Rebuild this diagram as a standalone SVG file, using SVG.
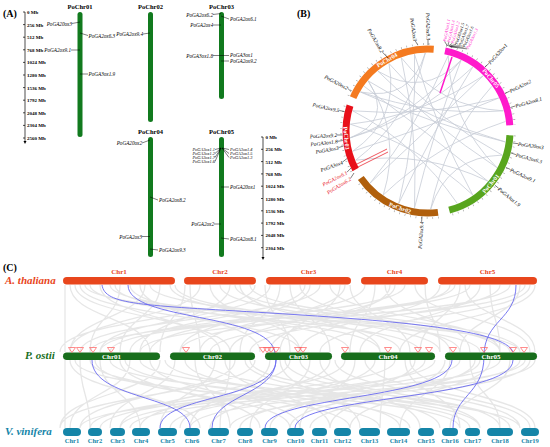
<svg xmlns="http://www.w3.org/2000/svg" width="550" height="447" viewBox="0 0 550 447">
<style>
text{font-family:"Liberation Serif","Times New Roman",serif}
.pl{font-size:10px;font-weight:bold}
.sc{font-size:5px;font-weight:bold}
.cn{font-size:6.5px;font-weight:bold;text-anchor:middle}
.g{font-size:5.2px;font-style:italic}
.ge{font-size:5.2px;font-style:italic;text-anchor:end}
.gs{font-size:4.4px;font-style:italic}
.gse{font-size:4.4px;font-style:italic;text-anchor:end}
.cg{font-size:5.3px;font-style:italic}
.cgs{font-size:4.4px;font-style:italic}
.cge{font-size:5.3px;font-style:italic;text-anchor:end}
.ln{stroke:#000;stroke-width:0.5;fill:none}
.chrA{fill:#117a1e}
.ax{stroke:#000;stroke-width:0.7;fill:none}
.arc{fill:none;stroke-width:7}
.tick{fill:none;stroke:#999;stroke-width:2;stroke-dasharray:0.6 5}
.lk{fill:none;stroke:#c7cbd5;stroke-width:0.8}
.cl{font-size:6px;font-weight:bold;fill:#fff;text-anchor:middle}
.sp{font-size:11px;font-weight:bold;font-style:italic}
.ath{fill:#e8461c}
.po{fill:#186e1c}
.vv{fill:#1585a8}
.al{font-size:7px;font-weight:bold;fill:#e8461c;text-anchor:middle}
.pol{font-size:7px;font-weight:bold;fill:#fff;text-anchor:middle}
.vl{font-size:6.5px;font-weight:bold;fill:#1585a8;text-anchor:middle}
.bg{fill:none;stroke:#d6d6d6;stroke-width:1.3;opacity:0.6}
.bl{fill:none;stroke:#6a6af0;stroke-width:0.9}
.tri{fill:none;stroke:#ff5a5a;stroke-width:0.7}
</style>
<defs>
<path id="tri" d="M-3.5 0 L3.5 0 L0 5Z"/>
</defs>
<rect width="550" height="447" fill="#fff"/>

<!-- Panel A -->
<g id="panelA">
<text class="pl" x="3" y="17">(A)</text>
<g id="scale1">
<path class="ax" d="M25 12V141"/>
<path d="M23.5 141L26.5 141L25 144Z"/>
<path class="ax" d="M23 12H25M23 24.6H25M23 37.2H25M23 49.8H25M23 62.4H25M23 75H25M23 87.6H25M23 100.2H25M23 112.8H25M23 125.4H25M23 138H25"/>
<text class="sc" x="27" y="14">0 Mb</text>
<text class="sc" x="27" y="26.6">256 Mb</text>
<text class="sc" x="27" y="39.2">512 Mb</text>
<text class="sc" x="27" y="51.8">768 Mb</text>
<text class="sc" x="27" y="64.4">1024 Mb</text>
<text class="sc" x="27" y="77">1280 Mb</text>
<text class="sc" x="27" y="89.6">1536 Mb</text>
<text class="sc" x="27" y="102.2">1792 Mb</text>
<text class="sc" x="27" y="114.8">2048 Mb</text>
<text class="sc" x="27" y="127.4">2304 Mb</text>
<text class="sc" x="27" y="140">2560 Mb</text>
</g>
<g id="scale2">
<path class="ax" d="M263 137V258"/>
<path d="M261.5 257L264.5 257L263 260Z"/>
<path class="ax" d="M261 137H263M261 149.3H263M261 161.6H263M261 173.9H263M261 186.2H263M261 198.5H263M261 210.8H263M261 223.1H263M261 235.4H263M261 247.7H263"/>
<text class="sc" x="265.5" y="139">0 Mb</text>
<text class="sc" x="265.5" y="151.3">256 Mb</text>
<text class="sc" x="265.5" y="163.6">512 Mb</text>
<text class="sc" x="265.5" y="175.9">768 Mb</text>
<text class="sc" x="265.5" y="188.2">1024 Mb</text>
<text class="sc" x="265.5" y="200.5">1280 Mb</text>
<text class="sc" x="265.5" y="212.8">1536 Mb</text>
<text class="sc" x="265.5" y="225.1">1792 Mb</text>
<text class="sc" x="265.5" y="237.4">2048 Mb</text>
<text class="sc" x="265.5" y="249.7">2304 Mb</text>
</g>
<g id="PoChr01">
<text class="cn" x="80" y="9">PoChr01</text>
<rect class="chrA" x="77.5" y="12" width="5" height="125" rx="2.5"/>
<path class="ln" d="M72 23.5L80 22M80 33L88 35.5M71 50L80 50M80 74L88 74"/>
<text class="ge" x="72" y="25.5">PoGA20ox3</text>
<text class="g" x="88.5" y="37.5">PoGA2ox6.3</text>
<text class="ge" x="71" y="52">PoGA2ox9.1</text>
<text class="g" x="88.5" y="76">PoGA3ox1.9</text>
</g>
<g id="PoChr02">
<text class="cn" x="150.5" y="9">PoChr02</text>
<rect class="chrA" x="148" y="12" width="5" height="110" rx="2.5"/>
<path class="ln" d="M143 34L150 33"/>
<text class="ge" x="143" y="36">PoGA2ox9.4</text>
</g>
<g id="PoChr03">
<text class="cn" x="221.5" y="9">PoChr03</text>
<rect class="chrA" x="219" y="12" width="5" height="87" rx="2.5"/>
<path class="ln" d="M213 14.5L221 13.5M221 16L229 19M213 25L221 25M213 55.5L221 55.5M221 55.5L229 55.5M221 61L229 61"/>
<text class="ge" x="213" y="16.5">PoGA2ox6.2</text>
<text class="g" x="230" y="20.5">PoGA2ox6.1</text>
<text class="ge" x="213" y="27">PoGA2ox4</text>
<text class="ge" x="213" y="57.5">PoGA3ox1.8</text>
<text class="g" x="230" y="56.5">PoGA3ox1</text>
<text class="g" x="230" y="63">PoGA2ox9.2</text>
</g>
<g id="PoChr04">
<text class="cn" x="150.5" y="134">PoChr04</text>
<rect class="chrA" x="148" y="137" width="5" height="120" rx="2.5"/>
<path class="ln" d="M142 143L150 140M150 197L158 200M142 236.5L150 236.5M150 249L158 250"/>
<text class="ge" x="142" y="145">PoGA20ox2</text>
<text class="g" x="159" y="202">PoGA2ox8.2</text>
<text class="ge" x="142" y="238.5">PoGA2ox3</text>
<text class="g" x="159" y="252">PoGA2ox9.3</text>
</g>
<g id="PoChr05">
<text class="cn" x="221.5" y="134">PoChr05</text>
<rect class="chrA" x="219" y="137" width="5" height="120" rx="2.5"/>
<path class="ln" d="M221 148L215 149.5M221 148L215 153.5M221 148L215 157.5M221 148L215 161.5M222 148L229 149.5M222 148L229 153.5M222 148L229 157.5M221 187L229 187M214 224L221 224M221 238L229 239"/>
<text class="gse" x="215" y="151">PoGA3ox1.1</text>
<text class="gse" x="215" y="155">PoGA3ox1.2</text>
<text class="gse" x="215" y="159">PoGA3ox1.7</text>
<text class="gse" x="215" y="163">PoGA3ox1.6</text>
<text class="gs" x="230" y="151">PoGA3ox1.4</text>
<text class="gs" x="230" y="155">PoGA3ox1.5</text>
<text class="gs" x="230" y="159">PoGA3ox1.3</text>
<text class="g" x="230" y="189">PoGA20ox1</text>
<text class="ge" x="214" y="226">PoGA2ox2</text>
<text class="g" x="230" y="241">PoGA2ox8.1</text>
</g>
</g>

<!-- Panel B -->
<g id="panelB">
<text class="pl" x="297" y="17">(B)</text>
<g id="circos-links">
<path class="lk" d="M360.5 92Q430.5 124 505.2 141.9M364.1 86.3Q427 132.4 487.8 181.1M368.2 80.9Q401.9 134.5 383.3 194.9M377.9 71.2Q423.7 98.4 461 60.3M389 63.5Q436.8 120.2 502.2 155.1M401.3 57.7Q418 132 414.5 207.8M414.5 54.2Q435.8 127.8 472.7 194.9M425.3 53Q409.3 118.8 355.7 160.2M448.2 55.7Q418.5 125.2 370 183.2M461 60.3Q416.8 115 350.3 137.8M472.7 67.1Q431.9 133.1 398.8 203.3M483.2 75.8Q422.4 115.5 350.3 124.2M491.9 86.3Q444.6 139.3 430.7 209M498.7 98Q426.8 127.8 352.7 151.2M503.3 110.8Q430 116.2 360.5 92M505.4 121.5Q436.2 144.6 383.3 194.9M505.2 141.9Q432.3 121.2 368.2 80.9M496.9 167.6Q432.7 125.2 377.9 71.2M457.2 203.3Q416.5 144 352.7 110.8M414.5 207.8Q432.9 132.5 461 60.3M398.8 203.3Q417.3 129.9 414.5 54.2M370 183.2Q427.3 130.2 483.2 75.8M352.7 151.2Q399.4 119.2 389 63.5M350.3 137.8Q419.8 116.7 472.7 67.1M350.3 124.2Q419.8 145.3 472.7 194.9M352.7 110.8Q426.8 117.7 498.7 98M401.3 57.7Q440.1 107.6 503.3 110.8M360.5 92Q410.5 101.8 425.3 53M502.2 155.1Q447.2 156.5 430.7 209M487.8 181.1Q424.9 150.8 355.7 160.2M448.2 55.7Q450.3 121.3 496.9 167.6M368.2 80.9Q393.6 120.2 350.3 137.8"/>
<path fill="none" stroke="#e8101a" stroke-width="0.7" d="M351 167L387 149M352 170L388 152"/>
<path fill="none" stroke="#ff1acb" stroke-width="1.5" d="M452 57L440 93"/>
</g>
<g id="cB-PoChr04">
<path class="arc" stroke="#f47a20" d="M353.1 97.6A82 82 0 0 1 433.7 49.2"/>
<path class="tick" d="M348.5 95.6A87 87 0 0 1 434.1 44.2"/>
<text class="cl" transform="translate(387 60) rotate(-30)" dy="2">PoChr04</text>
<path class="ln" d="M351.2 91.7L347.7 88.3M388.5 58.6L382.5 52.2M417.6 44.8L415.3 40.9M428 45L428 40"/>
<text class="cge" transform="translate(347.7 88.3) rotate(28)" dy="2">PoGA20ox2</text>
<text class="cge" transform="translate(382.5 52.2) rotate(60)" dy="2">PoGA2ox8.2</text>
<text class="cge" transform="translate(415.3 40.9) rotate(82)" dy="2">PoGA2ox3</text>
<text class="cge" transform="translate(428.5 40) rotate(89)" dy="2">PoGA2ox9.3</text>
</g>
<g id="cB-PoChr05">
<path class="arc" stroke="#ff1acb" d="M445 50.8A82 82 0 0 1 509.8 125.3"/>
<path class="tick" d="M446.1 45.9A87 87 0 0 1 514.8 124.9"/>
<text class="cl" transform="translate(490.8 78.3) rotate(50)" dy="2">PoChr05</text>
<path class="ln" d="M447.5 46L444.6 41.5M448 46L448.5 42.3M448.5 46L452.3 43.3M449 46.2L456.1 44.4M449.5 46.4L459.9 45.8M450 46.6L463.6 47.2M450.5 46.8L467.2 48.9M485 67L488.9 63.4M505 93.5L509.8 91.1M510.5 107.5L515.5 105.9"/>
<text class="cgs" fill="#ff1acb" transform="translate(444.6 41.5) rotate(-79.5)" dy="1.5">PoGA3ox1.1</text>
<text class="cgs" fill="#ff1acb" transform="translate(448.5 42.3) rotate(-77)" dy="1.5">PoGA3ox1.4</text>
<text class="cgs" fill="#ff1acb" transform="translate(452.3 43.3) rotate(-74.5)" dy="1.5">PoGA3ox1.2</text>
<text class="cgs" transform="translate(456.1 44.4) rotate(-72)" dy="1.5">PoGA3ox1.5</text>
<text class="cgs" transform="translate(459.9 45.8) rotate(-69.5)" dy="1.5">PoGA3ox1.7</text>
<text class="cgs" transform="translate(463.6 47.2) rotate(-67)" dy="1.5">PoGA3ox1.6</text>
<text class="cgs" fill="#ff1acb" transform="translate(467.2 48.9) rotate(-64.5)" dy="1.5">PoGA3ox1.3</text>
<text class="cg" transform="translate(488.9 63.4) rotate(-48)" dy="2">PoGA20ox1</text>
<text class="cg" transform="translate(509.8 91.1) rotate(-26)" dy="2">PoGA2ox2</text>
<text class="cg" transform="translate(515.5 105.9) rotate(-16)" dy="2">PoGA2ox8.1</text>
</g>
<g id="cB-PoChr01">
<path class="arc" stroke="#58a51e" d="M509.9 135.3A82 82 0 0 1 449.2 210.2"/>
<path class="tick" d="M514.9 135.6A87 87 0 0 1 450.5 215"/>
<text class="cl" transform="translate(490.8 183.7) rotate(-50)" dy="2">PoChr01</text>
<path class="ln" d="M513 143L518.1 143.7M511 153L515.9 154.6M506 167.5L510.5 169.5M495 185.3L498.7 188.3"/>
<text class="cg" transform="translate(518.1 143.7) rotate(8)" dy="2">PoGA20ox3</text>
<text class="cg" transform="translate(515.9 154.6) rotate(15)" dy="2">PoGA2ox6.3</text>
<text class="cg" transform="translate(510.5 169.5) rotate(25)" dy="2">PoGA2ox9.1</text>
<text class="cg" transform="translate(498.7 188.3) rotate(39)" dy="2">PoGA3ox1.9</text>
</g>
<g id="cB-PoChr02">
<path class="arc" stroke="#b05f0c" d="M438 212.4A82 82 0 0 1 360.8 178"/>
<path class="tick" d="M438.6 217.4A87 87 0 0 1 356.7 180.9"/>
<text class="cl" transform="translate(400 208) rotate(20)" dy="2">PoChr02</text>
<path class="ln" d="M422 216.5L421.6 221.8"/>
<text class="cge" transform="translate(421.6 221.8) rotate(-86)" dy="2">PoGA2ox9.4</text>
</g>
<g id="cB-PoChr03">
<path class="arc" stroke="#e8101a" d="M355.6 169.5A82 82 0 0 1 350 105.7"/>
<path class="tick" d="M351.2 171.8A87 87 0 0 1 345.3 104.1"/>
<text class="cl" transform="translate(346.3 138.1) rotate(85)" dy="2">PoChr03</text>
<path class="ln" d="M344.5 111.5L339.3 110.5M342.5 135L337.1 135M342.8 140.5L337.6 141.3M343.5 146L338.5 147.6M347 158.5L342.5 162.1M351 168L346.9 172.3M354 173L350.4 178.5"/>
<text class="cge" transform="translate(339.3 110.5) rotate(13)" dy="2">PoGA2ox9.5</text>
<text class="cge" transform="translate(337.1 135) rotate(-2.5)" dy="2">PoGA2ox9.2</text>
<text class="cge" transform="translate(337.6 141.3) rotate(-6.5)" dy="2">PoGA3ox1.8</text>
<text class="cge" transform="translate(338.5 147.6) rotate(-10.5)" dy="2">PoGA3ox3</text>
<text class="cge" transform="translate(342.5 162.1) rotate(-20)" dy="2">PoGA3ox4</text>
<text class="cge" fill="#e8101a" transform="translate(346.9 172.3) rotate(-27)" dy="2">PoGA2ox6.1</text>
<text class="cge" fill="#e8101a" transform="translate(350.4 178.5) rotate(-31.5)" dy="2">PoGA2ox6.2</text>
</g>
</g>

<!-- Panel C -->
<g id="panelC">
<text class="pl" x="3" y="271">(C)</text>
<g id="synteny-links">
<path class="bg" d="M70 285C70 318 150 318 150 352M80 285C80 318 300 318 300 352M90 285C90 318 420 318 420 352M100 285C100 318 220 318 220 352M110 285C110 318 480 318 480 352M120 285C120 318 90 318 90 352M130 285C130 318 350 318 350 352M140 285C140 318 260 318 260 352M150 285C150 318 510 318 510 352M160 285C160 318 120 318 120 352M170 285C170 318 400 318 400 352M190 285C190 318 200 318 200 352M200 285C200 318 70 318 70 352M210 285C210 318 300 318 300 352M220 285C220 318 460 318 460 352M230 285C230 318 140 318 140 352M240 285C240 318 380 318 380 352M250 285C250 318 520 318 520 352M270 285C270 318 100 318 100 352M280 285C280 318 240 318 240 352M290 285C290 318 330 318 330 352M300 285C300 318 450 318 450 352M310 285C310 318 180 318 180 352M320 285C320 318 80 318 80 352M330 285C330 318 500 318 500 352M340 285C340 318 280 318 280 352M350 285C350 318 410 318 410 352M365 285C365 318 150 318 150 352M375 285C375 318 350 318 350 352M385 285C385 318 470 318 470 352M395 285C395 318 230 318 230 352M405 285C405 318 100 318 100 352M415 285C415 318 530 318 530 352M440 285C440 318 300 318 300 352M450 285C450 318 180 318 180 352M460 285C460 318 420 318 420 352M470 285C470 318 90 318 90 352M480 285C480 318 360 318 360 352M490 285C490 318 500 318 500 352M500 285C500 318 250 318 250 352M510 285C510 318 140 318 140 352M520 285C520 318 460 318 460 352M530 285C530 318 320 318 320 352M85 285C85 318 520 318 520 352M175 285C175 318 440 318 440 352M255 285C255 318 60 318 60 352M345 285C345 318 200 318 200 352M455 285C455 318 110 318 110 352M535 285C535 318 400 318 400 352M115 285C115 318 380 318 380 352M65 285C65 318 65 318 65 352M185 285C185 318 160 318 160 352M265 285C265 318 290 318 290 352M425 285C425 318 440 318 440 352M75 285C75 318 230 318 230 352M145 285C145 318 70 318 70 352M235 285C235 318 500 318 500 352M305 285C305 318 130 318 130 352M390 285C390 318 270 318 270 352M465 285C465 318 535 318 535 352M525 285C525 318 210 318 210 352"/>
<path class="bg" d="M70 360C70 394 200 394 200 428M80 360C80 394 90 394 90 428M90 360C90 394 350 394 350 428M100 360C100 394 140 394 140 428M110 360C110 394 460 394 460 428M120 360C120 394 260 394 260 428M130 360C130 394 70 394 70 428M140 360C140 394 520 394 520 428M150 360C150 394 300 394 300 428M175 360C175 394 110 394 110 428M185 360C185 394 400 394 400 428M195 360C195 394 230 394 230 428M205 360C205 394 480 394 480 428M215 360C215 394 160 394 160 428M225 360C225 394 330 394 330 428M235 360C235 394 80 394 80 428M245 360C245 394 440 394 440 428M270 360C270 394 190 394 190 428M280 360C280 394 360 394 360 428M290 360C290 394 120 394 120 428M300 360C300 394 500 394 500 428M310 360C310 394 250 394 250 428M320 360C320 394 420 394 420 428M345 360C345 394 140 394 140 428M355 360C355 394 300 394 300 428M365 360C365 394 530 394 530 428M375 360C375 394 210 394 210 428M385 360C385 394 380 394 380 428M395 360C395 394 90 394 90 428M405 360C405 394 460 394 460 428M415 360C415 394 270 394 270 428M425 360C425 394 170 394 170 428M450 360C450 394 400 394 400 428M460 360C460 394 120 394 120 428M470 360C470 394 500 394 500 428M480 360C480 394 240 394 240 428M490 360C490 394 350 394 350 428M500 360C500 394 80 394 80 428M510 360C510 394 450 394 450 428M520 360C520 394 190 394 190 428M530 360C530 394 310 394 310 428M95 360C95 394 290 394 290 428M165 360C165 394 470 394 470 428M255 360C255 394 60 394 60 428M335 360C335 394 520 394 520 428M435 360C435 394 100 394 100 428M535 360C535 394 230 394 230 428M125 360C125 394 410 394 410 428M285 360C285 394 480 394 480 428M445 360C445 394 330 394 330 428M65 360C65 394 65 394 65 428M230 360C230 394 220 394 220 428M75 360C75 394 380 394 380 428M160 360C160 394 60 394 60 428M250 360C250 394 510 394 510 428M330 360C330 394 180 394 180 428M410 360C410 394 535 394 535 428M475 360C475 394 290 394 290 428M525 360C525 394 130 394 130 428"/>
<path class="bl" d="M102 285C105 305 140 305 270 313S505 330 513 352"/>
<path class="bl" d="M128 285C128 322 270 312 275 353"/>
<path class="bl" d="M516 285C516 320 484 320 484 356C484 395 453 395 453 428"/>
<path class="bl" d="M92 360C92 400 190 395 190 428"/>
<path class="bl" d="M276 360C276 400 160 395 160 428"/>
<path class="bl" d="M276 360C276 395 212 395 212 428"/>
<path class="bl" d="M452 360C452 400 265 395 265 428"/>
<path class="bl" d="M513 360C513 400 295 395 295 428"/>
</g>
<g id="A-thaliana">
<text class="sp" fill="#e8461c" x="5" y="284">A. thaliana</text>
<rect class="ath" x="63" y="277" width="112" height="7.5" rx="3.75"/>
<rect class="ath" x="184" y="277" width="72" height="7.5" rx="3.75"/>
<rect class="ath" x="266" y="277" width="85" height="7.5" rx="3.75"/>
<rect class="ath" x="361" y="277" width="67" height="7.5" rx="3.75"/>
<rect class="ath" x="438" y="277" width="99" height="7.5" rx="3.75"/>
<text class="al" x="119" y="274">Chr1</text>
<text class="al" x="220" y="274">Chr2</text>
<text class="al" x="308.5" y="274">Chr3</text>
<text class="al" x="394.5" y="274">Chr4</text>
<text class="al" x="487.5" y="274">Chr5</text>
</g>
<g id="P-ostii">
<text class="sp" fill="#186e1c" x="25" y="359">P. ostii</text>
<rect class="po" x="63" y="352.5" width="97" height="7.5" rx="3.75"/>
<rect class="po" x="170" y="352.5" width="85" height="7.5" rx="3.75"/>
<rect class="po" x="265" y="352.5" width="67" height="7.5" rx="3.75"/>
<rect class="po" x="341" y="352.5" width="94" height="7.5" rx="3.75"/>
<rect class="po" x="445" y="352.5" width="92" height="7.5" rx="3.75"/>
<text class="pol" x="111.5" y="359">Chr01</text>
<text class="pol" x="212.5" y="359">Chr02</text>
<text class="pol" x="298.5" y="359">Chr03</text>
<text class="pol" x="388" y="359">Chr04</text>
<text class="pol" x="491" y="359">Chr05</text>
<g class="tri">
<use href="#tri" x="72" y="347.5"/><use href="#tri" x="80" y="347.5"/><use href="#tri" x="93" y="347.5"/><use href="#tri" x="111" y="347.5"/><use href="#tri" x="186" y="347.5"/><use href="#tri" x="263" y="347.5"/><use href="#tri" x="267" y="347.5"/><use href="#tri" x="271" y="347.5"/><use href="#tri" x="276" y="347.5"/><use href="#tri" x="298" y="347.5"/><use href="#tri" x="303" y="347.5"/><use href="#tri" x="345" y="347.5"/><use href="#tri" x="388" y="347.5"/><use href="#tri" x="418" y="347.5"/><use href="#tri" x="429" y="347.5"/><use href="#tri" x="453" y="347.5"/><use href="#tri" x="484" y="347.5"/><use href="#tri" x="513" y="347.5"/><use href="#tri" x="524" y="347.5"/>
</g>
</g>
<g id="V-vinifera">
<text class="sp" fill="#1585a8" x="5" y="435">V. vinifera</text>
<rect class="vv" x="63" y="428" width="18" height="8" rx="4"/>
<rect class="vv" x="88" y="428" width="14" height="8" rx="4"/>
<rect class="vv" x="110" y="428" width="15" height="8" rx="4"/>
<rect class="vv" x="132" y="428" width="18" height="8" rx="4"/>
<rect class="vv" x="158" y="428" width="19" height="8" rx="4"/>
<rect class="vv" x="184" y="428" width="16" height="8" rx="4"/>
<rect class="vv" x="208" y="428" width="21" height="8" rx="4"/>
<rect class="vv" x="237" y="428" width="16" height="8" rx="4"/>
<rect class="vv" x="261" y="428" width="17" height="8" rx="4"/>
<rect class="vv" x="287" y="428" width="17" height="8" rx="4"/>
<rect class="vv" x="312" y="428" width="15" height="8" rx="4"/>
<rect class="vv" x="334" y="428" width="17" height="8" rx="4"/>
<rect class="vv" x="359" y="428" width="21" height="8" rx="4"/>
<rect class="vv" x="387" y="428" width="23" height="8" rx="4"/>
<rect class="vv" x="418" y="428" width="16" height="8" rx="4"/>
<rect class="vv" x="442" y="428" width="16" height="8" rx="4"/>
<rect class="vv" x="465" y="428" width="15" height="8" rx="4"/>
<rect class="vv" x="487" y="428" width="26" height="8" rx="4"/>
<rect class="vv" x="521" y="428" width="18" height="8" rx="4"/>
<text class="vl" x="72" y="443">Chr1</text>
<text class="vl" x="95" y="443">Chr2</text>
<text class="vl" x="117.5" y="443">Chr3</text>
<text class="vl" x="141" y="443">Chr4</text>
<text class="vl" x="167.5" y="443">Chr5</text>
<text class="vl" x="192" y="443">Chr6</text>
<text class="vl" x="218.5" y="443">Chr7</text>
<text class="vl" x="245" y="443">Chr8</text>
<text class="vl" x="269.5" y="443">Chr9</text>
<text class="vl" x="295.5" y="443">Chr10</text>
<text class="vl" x="319.5" y="443">Chr11</text>
<text class="vl" x="342.5" y="443">Chr12</text>
<text class="vl" x="369.5" y="443">Chr13</text>
<text class="vl" x="398.5" y="443">Chr14</text>
<text class="vl" x="426" y="443">Chr15</text>
<text class="vl" x="450" y="443">Chr16</text>
<text class="vl" x="472.5" y="443">Chr17</text>
<text class="vl" x="500" y="443">Chr18</text>
<text class="vl" x="530" y="443">Chr19</text>
</g>
</g>
</svg>
